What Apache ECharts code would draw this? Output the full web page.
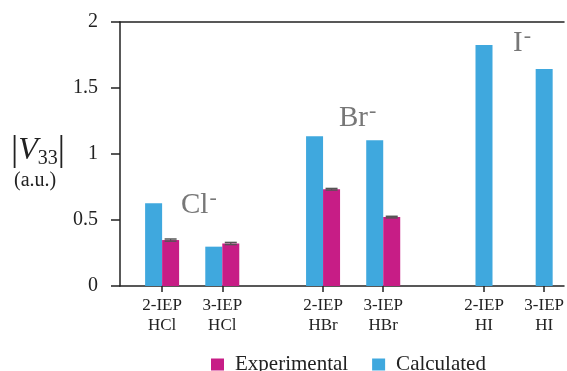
<!DOCTYPE html>
<html>
<head>
<meta charset="utf-8">
<script src="https://cdn.jsdelivr.net/npm/echarts@6/dist/echarts.min.js"></script>
<style>html,body{margin:0;padding:0;background:#fff}#c{width:567px;height:371px}</style>
</head>
<body>
<div id="c"></div>
<script>
// ---- data ----
var groups = ['HCl', 'HBr', 'HI'];
var isomers = ['2-IEP', '3-IEP'];
var calculated = [0.626, 0.298, 1.135, 1.104, 1.826, 1.644];
var experimental = [0.348, 0.322, 0.733, 0.522, null, null];
var expError = [0.008, 0.008, 0.006, 0.006, null, null];
var yTicks = [0, 0.5, 1, 1.5, 2];

// ---- layout helpers ----
var GROUP_STEP = 5.35, ISO_STEP = 2;
var slots = [], labels = {};
groups.forEach(function (g, gi) {
  isomers.forEach(function (iso, ii) {
    var x = +(gi * GROUP_STEP + ii * ISO_STEP).toFixed(3);
    slots.push(x);
    labels[x] = iso + '\n' + g;
  });
});
var XMIN = -1.40, XMAX = 13.36;
var serif = 'Liberation Serif';
var BLUE = '#3FA8DE', MAG = '#C71D86';
var BW = 17;

var calcPaired = [], calcSingle = [], expData = [], errData = [];
slots.forEach(function (x, i) {
  if (experimental[i] != null) {
    calcPaired.push([x, calculated[i]]);
    expData.push([x, experimental[i]]);
    errData.push([x, experimental[i], expError[i]]);
  } else {
    calcSingle.push([x, calculated[i]]);
  }
});

var chart = echarts.init(document.getElementById('c'), null, {renderer: 'canvas'});
var supText = function (main) {
  return {
    text: '{m|' + main + '}{s|-}',
    rich: {
      m: {fontFamily: serif, fontSize: 29, fill: '#777', fontWeight: 'normal'},
      s: {fontFamily: serif, fontSize: 22, fill: '#777', verticalAlign: 'top', padding: [0, 0, 14, 1]}
    }
  };
};
chart.setOption({
  animation: false,
  backgroundColor: '#fff',
  textStyle: {fontFamily: serif},
  grid: {left: 120, right: 0, top: 22, bottom: 85, containLabel: false},
  legend: {
    left: 206, top: 349, itemWidth: 13, itemHeight: 12, itemGap: 24,
    icon: 'rect',
    textStyle: {fontFamily: serif, fontSize: 21, color: '#222', padding: [0, 0, 0, 6]},
    data: ['Experimental', 'Calculated']
  },
  xAxis: [{
    type: 'value', min: XMIN, max: XMAX, splitLine: {show: false},
    axisLine: {show: true, onZero: false, lineStyle: {color: '#222', width: 1.5}},
    axisTick: {show: true, customValues: slots, length: 6, lineStyle: {color: '#222', width: 1.5}},
    axisLabel: {
      show: true, customValues: slots, margin: 10,
      fontFamily: serif, fontSize: 17, color: '#222', lineHeight: 20,
      formatter: function (v) {
        var k = Object.keys(labels).filter(function (s) { return Math.abs(+s - v) < 1e-6; })[0];
        return k !== undefined ? labels[k] : '';
      }
    }
  }, {
    type: 'value', min: XMIN, max: XMAX, position: 'top', splitLine: {show: false},
    axisLine: {show: true, onZero: false, lineStyle: {color: '#222', width: 1.5}},
    axisTick: {show: false}, axisLabel: {show: false}
  }],
  yAxis: {
    type: 'value', min: 0, max: 2, interval: 0.5,
    splitLine: {show: false},
    axisLine: {show: true, onZero: false, lineStyle: {color: '#222', width: 1.5}},
    axisTick: {show: true, length: 9, lineStyle: {color: '#222', width: 1.5}},
    axisLabel: {margin: 22, fontFamily: serif, fontSize: 20, color: '#222',
      formatter: function (v) { return yTicks.indexOf(v) >= 0 ? String(v) : ''; }}
  },
  title: {
    left: 11, top: 133, padding: 0,
    text: '{bar||}{v|V}{sub|33}{bar||}\n{au|(a.u.)}',
    textStyle: {
      fontWeight: 'normal',
      rich: {
        bar: {fontFamily: serif, fontSize: 36, color: '#222', fontWeight: 'normal'},
        v: {fontFamily: serif, fontSize: 32, fontStyle: 'italic', color: '#222', fontWeight: 'normal'},
        sub: {fontFamily: serif, fontSize: 20, color: '#222', fontWeight: 'normal', verticalAlign: 'bottom', padding: [14, 0, 0, 0]},
        au: {fontFamily: serif, fontSize: 20, color: '#222', fontWeight: 'normal', padding: [2, 0, 0, 3]}
      }
    }
  },
  graphic: [
    {type: 'text', left: 181, top: 187, style: supText('Cl')},
    {type: 'text', left: 339, top: 100, style: supText('Br')},
    {type: 'text', left: 513, top: 25, style: supText('I')}
  ],
  series: [
    {name: 'Calculated', type: 'bar', xAxisIndex: 0, barWidth: BW, barGap: '0%', data: calcPaired, itemStyle: {color: BLUE}},
    {name: 'Experimental', type: 'bar', xAxisIndex: 0, barWidth: BW, barGap: '0%', data: expData, itemStyle: {color: MAG}},
    {name: 'Calculated', type: 'bar', xAxisIndex: 1, barWidth: BW, data: calcSingle, itemStyle: {color: BLUE}},
    {
      name: 'err', type: 'custom', xAxisIndex: 0, data: errData, z: 10,
      renderItem: function (params, api) {
        var x = api.value(0), v = api.value(1), e = api.value(2);
        var top = api.coord([x, v + e]), bot = api.coord([x, v - e]);
        var cx = top[0] + BW / 2, hw = 6;
        return {type: 'group', children: [
          {type: 'line', shape: {x1: cx, y1: top[1], x2: cx, y2: bot[1]}, style: {stroke: '#555', lineWidth: 1.2}},
          {type: 'line', shape: {x1: cx - hw, y1: top[1], x2: cx + hw, y2: top[1]}, style: {stroke: '#555', lineWidth: 1.5}},
          {type: 'line', shape: {x1: cx - hw, y1: bot[1], x2: cx + hw, y2: bot[1]}, style: {stroke: '#555', lineWidth: 1.5}}
        ]};
      }
    }
  ]
});
</script>
</body>
</html>
